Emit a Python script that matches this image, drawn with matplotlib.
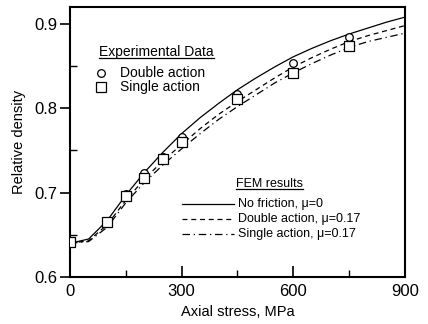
import matplotlib
matplotlib.use("Agg")
import matplotlib.pyplot as plt
from matplotlib.ticker import MultipleLocator

plt.rcParams['font.family'] = ['Liberation Sans', 'DejaVu Sans']

# Experimental points (axial stress in MPa, relative density)
exp_stress = [0, 100, 150, 200, 250, 300, 450, 600, 750]
double_density = [0.641, 0.666, 0.698, 0.723, 0.742, 0.766, 0.817, 0.854, 0.884]
single_density = [0.641, 0.665, 0.696, 0.717, 0.740, 0.760, 0.811, 0.842, 0.874]

# FEM curves
fem_stress = [0, 50, 100, 150, 200, 250, 300, 350, 400, 450,
              500, 550, 600, 650, 700, 750, 800, 850, 900]
fem_nofric = [0.640, 0.645, 0.667, 0.697, 0.724, 0.748, 0.770, 0.789, 0.806, 0.822,
              0.836, 0.849, 0.861, 0.871, 0.880, 0.888, 0.895, 0.902, 0.908]
fem_double = [0.640, 0.643, 0.662, 0.691, 0.716, 0.738, 0.757, 0.776, 0.793, 0.808,
              0.822, 0.836, 0.849, 0.860, 0.870, 0.879, 0.886, 0.892, 0.898]
fem_single = [0.640, 0.642, 0.659, 0.688, 0.712, 0.733, 0.752, 0.770, 0.787, 0.802,
              0.816, 0.830, 0.842, 0.853, 0.863, 0.872, 0.879, 0.884, 0.889]

fem_labels = ['No friction, μ=0', 'Double action, μ=0.17', 'Single action, μ=0.17']
fem_dashes = [None, (4, 3), (6, 3, 1, 3)]


def underlined(ax, x, y, s, size):
    """Axes-fraction text with a rule drawn just under it."""
    t = ax.text(x, y, s, transform=ax.transAxes, fontsize=size, va='center', ha='left')
    fig = ax.figure
    fig.canvas.draw()
    bb = t.get_window_extent().transformed(ax.transAxes.inverted())
    yline = bb.y0 + 0.1 * (bb.y1 - bb.y0)
    ax.plot([bb.x0, bb.x1], [yline, yline], color='black', lw=0.9,
            transform=ax.transAxes, clip_on=False)


fig = plt.figure(figsize=(4.28, 3.24), dpi=100)
ax = fig.add_axes([70 / 428, 47 / 324, 335 / 428, 270 / 324])

for ys, dash in zip([fem_nofric, fem_double, fem_single], fem_dashes):
    line, = ax.plot(fem_stress, ys, color='black', lw=0.9)
    if dash:
        line.set_dashes(dash)

ax.plot(exp_stress, double_density, 'o', ms=5.5, mfc='white', mec='black', mew=0.9, zorder=3)
ax.plot(exp_stress, single_density, 's', ms=6.5, mfc='white', mec='black', mew=0.9, zorder=4)

ax.set_xlim(0, 900)
ax.set_ylim(0.6, 0.92)
ax.xaxis.set_major_locator(MultipleLocator(300))
ax.xaxis.set_minor_locator(MultipleLocator(150))
ax.yaxis.set_minor_locator(MultipleLocator(0.05))
ax.set_yticks([0.6, 0.7, 0.8, 0.9])
ax.set_yticklabels(['0.6', '0.7', '0.8', '0.9'])
ax.tick_params(axis='x', which='major', direction='in', length=8, width=1.2, labelsize=12, pad=5)
ax.tick_params(axis='x', which='minor', direction='in', length=5, width=1.0)
ax.tick_params(axis='y', which='major', direction='out', length=7, width=1.2, labelsize=12, pad=2)
ax.tick_params(axis='y', which='minor', direction='in', length=5, width=1.0)
for sp in ax.spines.values():
    sp.set_linewidth(1.5)

ax.set_xlabel('Axial stress, MPa', fontsize=10.5, labelpad=4)
ax.set_ylabel('Relative density', fontsize=10.5, labelpad=6)

# Experimental data key
underlined(ax, 0.088, 0.833, 'Experimental Data', 10)
ax.plot([0.094], [0.756], 'o', ms=5.5, mfc='white', mec='black', mew=0.9,
        transform=ax.transAxes, clip_on=False)
ax.plot([0.094], [0.704], 's', ms=6.5, mfc='white', mec='black', mew=0.9,
        transform=ax.transAxes, clip_on=False)
ax.text(0.149, 0.756, 'Double action', transform=ax.transAxes, fontsize=10, va='center')
ax.text(0.149, 0.704, 'Single action', transform=ax.transAxes, fontsize=10, va='center')

# FEM key
underlined(ax, 0.495, 0.344, 'FEM results', 9)
for row, (lab, dash) in enumerate(zip(fem_labels, fem_dashes)):
    yy = 0.270 - row * 0.055
    key, = ax.plot([0.334, 0.49], [yy, yy], color='black', lw=0.9, transform=ax.transAxes)
    if dash:
        key.set_dashes(dash)
    ax.text(0.5015, yy, lab, transform=ax.transAxes, fontsize=9, va='center')

fig.savefig('out.png', dpi=100)
